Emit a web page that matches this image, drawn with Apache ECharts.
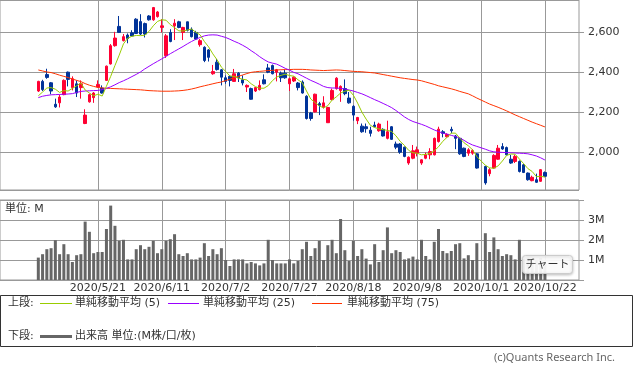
<!DOCTYPE html>
<html>
<head>
<meta charset="utf-8">
<script src="https://cdn.jsdelivr.net/npm/echarts@6/dist/echarts.min.js"></script>
<style>
  html, body { margin: 0; padding: 0; background: #fff; }
  #chart { width: 633px; height: 376px; }
</style>
</head>
<body>
<div id="chart"></div>
<script>
// 日付（営業日）
const dates = [
  '2020/4/27','2020/4/28','2020/4/30','2020/5/1','2020/5/7','2020/5/8','2020/5/11','2020/5/12','2020/5/13','2020/5/14','2020/5/15','2020/5/18','2020/5/19','2020/5/20','2020/5/21',
  '2020/5/22','2020/5/25','2020/5/26','2020/5/27','2020/5/28','2020/5/29','2020/6/1','2020/6/2','2020/6/3','2020/6/4','2020/6/5','2020/6/8','2020/6/9','2020/6/10','2020/6/11',
  '2020/6/12','2020/6/15','2020/6/16','2020/6/17','2020/6/18','2020/6/19','2020/6/22','2020/6/23','2020/6/24','2020/6/25','2020/6/26','2020/6/29','2020/6/30','2020/7/1','2020/7/2',
  '2020/7/3','2020/7/6','2020/7/7','2020/7/8','2020/7/9','2020/7/10','2020/7/13','2020/7/14','2020/7/15','2020/7/16','2020/7/17','2020/7/20','2020/7/21','2020/7/22','2020/7/27',
  '2020/7/28','2020/7/29','2020/7/30','2020/7/31','2020/8/3','2020/8/4','2020/8/5','2020/8/6','2020/8/7','2020/8/11','2020/8/12','2020/8/13','2020/8/14','2020/8/17','2020/8/18',
  '2020/8/19','2020/8/20','2020/8/21','2020/8/24','2020/8/25','2020/8/26','2020/8/27','2020/8/28','2020/8/31','2020/9/1','2020/9/2','2020/9/3','2020/9/4','2020/9/7','2020/9/8',
  '2020/9/9','2020/9/10','2020/9/11','2020/9/14','2020/9/15','2020/9/16','2020/9/17','2020/9/18','2020/9/23','2020/9/24','2020/9/25','2020/9/28','2020/9/29','2020/9/30','2020/10/1',
  '2020/10/2','2020/10/5','2020/10/6','2020/10/7','2020/10/8','2020/10/9','2020/10/12','2020/10/13','2020/10/14','2020/10/15','2020/10/16','2020/10/19','2020/10/20','2020/10/21','2020/10/22'
]
const tickLabels = ['2020/5/21', '2020/6/11', '2020/7/2', '2020/7/27', '2020/8/18', '2020/9/8', '2020/10/1', '2020/10/22']
const priceTicks = [2000, 2200, 2400, 2600]
const volumeTicks = [1, 2, 3]

// 四本値（10/1 は売買停止）
const open = [
  2305,2353,2387,2346,2239,2246,2287,2399,2322,2341,2322,2143,2251,2272,2325,
  2320,2358,2440,2531,2627,2556,2584,2595,2663,2651,2641,2679,2660,2676,2622,
  2481,2597,2630,2650,2597,2650,2613,2597,2536,2523,2510,2391,2449,2411,2371,
  2378,2353,2394,2361,2325,2317,2305,2312,2361,2420,2432,2399,2394,2394,2341,
  2355,2345,2350,2279,2196,2201,2242,2226,2147,2262,2317,2308,2317,2270,2229,
  2157,2130,2127,2110,2135,2107,2114,2069,2127,2041,2041,2025,1946,1970,1995,
  1946,1970,1987,1987,2053,2102,2077,2114,2081,2069,2020,1995,1995,1992,null,
  1929,1893,1921,1965,2028,2023,1965,1954,1954,1937,1896,1858,1863,1855,1899
]
const close = [
  2353,2312,2373,2305,2226,2275,2358,2363,2366,2295,2341,2185,2287,2295,2338,
  2295,2429,2531,2569,2597,2576,2567,2579,2592,2589,2589,2660,2721,2699,2630,
  2580,2552,2643,2622,2622,2608,2576,2564,2556,2457,2473,2402,2412,2374,2353,
  2358,2391,2371,2345,2333,2264,2322,2333,2341,2399,2391,2411,2371,2371,2366,
  2374,2322,2295,2168,2168,2289,2234,2246,2223,2308,2369,2328,2292,2246,2185,
  2173,2102,2117,2094,2127,2140,2081,2102,2064,2025,2000,1979,1975,2007,2012,
  1962,1987,2003,2069,2115,2094,2089,2107,2069,1992,1979,2012,2008,1921,null,
  1847,1913,1984,2020,2016,1987,1946,1979,1904,1899,1863,1875,1850,1913,1880
]
const high = [
  2356,2361,2416,2350,2267,2287,2363,2402,2378,2358,2358,2214,2292,2300,2358,
  2333,2432,2539,2600,2679,2589,2592,2608,2668,2688,2646,2683,2724,2704,2663,
  2589,2613,2663,2655,2625,2651,2622,2605,2564,2528,2514,2435,2465,2415,2383,
  2383,2415,2399,2383,2338,2322,2325,2358,2388,2440,2437,2415,2402,2411,2371,
  2378,2350,2358,2284,2201,2292,2251,2279,2226,2317,2374,2333,2363,2300,2234,
  2176,2143,2143,2127,2152,2147,2119,2157,2130,2053,2045,2028,1979,2036,2028,
  1965,1998,2020,2073,2127,2110,2094,2127,2086,2074,2023,2020,2015,1995,null,
  1932,1921,1990,2036,2045,2028,1987,1987,1959,1942,1899,1883,1893,1916,1904
]
const low = [
  2300,2305,2366,2289,2221,2223,2284,2328,2308,2275,2267,2140,2247,2246,2322,
  2292,2355,2437,2526,2594,2552,2543,2576,2589,2584,2572,2656,2655,2671,2597,
  2470,2548,2559,2618,2559,2602,2572,2559,2526,2449,2452,2386,2407,2333,2341,
  2328,2350,2350,2333,2300,2262,2300,2308,2338,2394,2388,2353,2350,2366,2305,
  2350,2308,2292,2163,2157,2198,2185,2218,2147,2259,2312,2251,2284,2242,2157,
  2140,2097,2097,2078,2124,2102,2078,2064,2061,2015,1992,1975,1937,1965,1979,
  1937,1965,1965,1984,2048,2074,2074,2094,2015,1987,1975,1982,1987,1918,null,
  1838,1880,1918,1962,2012,1984,1942,1946,1899,1896,1858,1855,1847,1852,1876
]

// 単純移動平均
const ma5 = [
  2281,2300,2320,2322,2314,2298,2307,2305,2318,2331,2345,2310,2295,2281,2289,
  2280,2329,2378,2432,2484,2540,2568,2578,2582,2581,2583,2602,2630,2652,2660,
  2658,2636,2621,2605,2604,2609,2614,2598,2585,2552,2525,2490,2460,2424,2403,
  2380,2378,2369,2364,2360,2341,2327,2319,2319,2332,2357,2375,2383,2389,2382,
  2379,2361,2346,2305,2265,2248,2231,2221,2232,2260,2276,2295,2304,2309,2284,
  2245,2200,2165,2134,2123,2116,2112,2109,2103,2082,2054,2034,2009,1997,1995,
  1987,1989,1994,2007,2027,2054,2074,2095,2095,2070,2047,2032,2012,1978,null,
  1935,1922,1920,1932,1956,1984,1991,1990,1966,1943,1918,1904,1878,1880,1876
]
const ma25 = [
  2272,2279,2283,2286,2287,2288,2289,2290,2292,2298,2303,2305,2306,2307,2308,
  2312,2318,2326,2336,2347,2356,2366,2377,2388,2400,2415,2428,2441,2453,2465,
  2478,2491,2503,2515,2527,2540,2552,2563,2572,2580,2584,2585,2584,2578,2572,
  2563,2553,2544,2533,2521,2506,2492,2476,2462,2450,2444,2439,2429,2418,2409,
  2398,2391,2380,2369,2358,2349,2339,2328,2322,2320,2320,2318,2315,2310,2305,
  2298,2291,2282,2272,2262,2253,2243,2233,2222,2208,2192,2176,2163,2153,2146,
  2139,2131,2121,2111,2103,2095,2090,2084,2078,2071,2059,2046,2036,2029,null,
  2015,2007,2002,2000,1999,1998,1997,1996,1995,1994,1992,1987,1981,1972,1961
]
const ma75 = [
  2410,2405,2400,2397,2391,2384,2378,2372,2365,2358,2352,2342,2334,2328,2323,
  2320,2319,2318,2317,2316,2315,2314,2313,2312,2311,2309,2307,2306,2305,2304,
  2304,2304,2305,2306,2308,2311,2315,2320,2326,2331,2336,2341,2346,2350,2357,
  2364,2371,2378,2385,2392,2398,2401,2403,2405,2407,2408,2410,2411,2412,2412,
  2413,2413,2413,2412,2410,2409,2408,2407,2408,2409,2410,2409,2407,2405,2403,
  2402,2401,2399,2397,2395,2391,2387,2383,2379,2375,2371,2368,2365,2362,2360,
  2356,2350,2344,2338,2331,2326,2321,2316,2310,2303,2297,2291,2281,2270,null,
  2250,2240,2232,2224,2215,2206,2196,2186,2177,2168,2159,2150,2142,2134,2126
]

// 出来高（M株）
const volume = [
  1.12,1.29,1.54,1.59,1.99,1.29,1.79,1.29,0.90,1.24,1.29,2.92,2.41,1.34,1.40,
  1.40,2.55,3.72,2.71,1.96,2.01,1.03,1.03,1.54,1.74,1.54,1.66,1.96,1.34,1.54,
  1.96,2.04,2.29,1.29,1.20,1.34,1.03,1.03,1.12,1.84,1.20,1.54,1.29,1.59,1.00,
  0.70,1.03,1.03,1.03,0.83,0.90,0.83,0.73,0.83,2.01,1.00,0.83,0.83,0.83,1.03,
  0.83,0.95,1.54,1.91,1.20,1.59,1.96,1.00,1.74,2.01,1.34,3.05,1.49,0.95,1.96,
  1.20,1.54,1.07,0.78,1.79,0.90,1.49,2.63,1.34,1.49,1.40,1.03,1.08,1.17,1.03,
  2.01,1.20,1.03,1.91,2.55,1.45,1.34,1.45,1.79,1.84,1.08,1.24,1.00,1.84,null,
  2.34,1.40,2.13,1.54,1.20,1.29,1.24,1.03,2.01,1.03,1.10,0.90,1.00,1.10,0.80
]

// 左右の余白（空きカテゴリ数）
const padLeft = 9
const padRight = 8
const EMPTY = '-'
const pad = (arr) => new Array(padLeft).fill(EMPTY)
  .concat(arr.map((v) => (v == null ? EMPTY : v)), new Array(padRight).fill(EMPTY))
const axisDates = new Array(padLeft).fill('').concat(dates, new Array(padRight).fill(''))
const EMPTY_CANDLE = [EMPTY, EMPTY, EMPTY, EMPTY]
const candles = new Array(padLeft).fill(EMPTY_CANDLE)
  .concat(
    dates.map((d, i) => (open[i] == null ? EMPTY_CANDLE : [open[i], close[i], low[i], high[i]])),
    new Array(padRight).fill(EMPTY_CANDLE)
  )
const showDate = (idx, val) => tickLabels.indexOf(val) >= 0

const FONT = 'DejaVu Sans, Noto Sans CJK JP, sans-serif'
const GRID_COLOR = '#999'

let myChart = echarts.init(document.getElementById('chart'))
let option = {
  animation: false,
  textStyle: { fontFamily: FONT },
  grid: [
    // 上端の枠線は見えないので 1px 上にずらす
    { left: 0, top: -1, width: 579, height: 191, show: true, borderColor: GRID_COLOR, borderWidth: 1 },
    { left: 0, top: 200, width: 579, height: 80, show: true, borderColor: GRID_COLOR, borderWidth: 1 }
  ],
  xAxis: [
    {
      gridIndex: 0,
      type: 'category',
      data: axisDates,
      boundaryGap: false,
      axisLine: { show: false },
      axisTick: { show: false },
      axisLabel: { show: false },
      splitLine: { show: true, interval: showDate, lineStyle: { color: GRID_COLOR } }
    },
    {
      gridIndex: 1,
      type: 'category',
      data: axisDates,
      boundaryGap: false,
      axisLine: { show: false },
      axisTick: { show: false },
      axisLabel: { interval: showDate, color: '#333', fontSize: 11, margin: 3, fontFamily: FONT },
      splitLine: { show: true, interval: showDate, lineStyle: { color: GRID_COLOR } }
    }
  ],
  yAxis: [
    {
      gridIndex: 0,
      type: 'value',
      position: 'right',
      min: 1811.6,
      max: 2758.7,
      axisLine: { show: false },
      axisTick: { show: true, length: 5, lineStyle: { color: GRID_COLOR } },
      axisLabel: {
        color: '#333',
        fontSize: 11,
        margin: 9,
        fontFamily: FONT,
        showMinLabel: false,
        showMaxLabel: false,
        formatter: (v) => (priceTicks.indexOf(v) >= 0 ? v.toLocaleString('en-US') : '')
      },
      splitLine: { show: true, lineStyle: { color: GRID_COLOR } }
    },
    {
      gridIndex: 1,
      type: 'value',
      position: 'right',
      min: 0,
      max: 4,
      interval: 1,
      axisLine: { show: false },
      axisTick: { show: true, length: 5, lineStyle: { color: GRID_COLOR } },
      axisLabel: {
        color: '#333',
        fontSize: 11,
        margin: 9,
        fontFamily: FONT,
        formatter: (v) => (volumeTicks.indexOf(v) >= 0 ? v + 'M' : '')
      },
      splitLine: { show: true, lineStyle: { color: GRID_COLOR } }
    }
  ],
  series: [
    {
      name: 'ローソク足',
      type: 'candlestick',
      xAxisIndex: 0,
      yAxisIndex: 0,
      barWidth: 3,
      data: candles,
      itemStyle: {
        color: '#ff0033',
        color0: '#003399',
        borderColor: '#ff0033',
        borderColor0: '#003399',
        borderWidth: 1
      }
    },
    {
      name: '単純移動平均 (75)',
      type: 'line',
      xAxisIndex: 0,
      yAxisIndex: 0,
      data: pad(ma75),
      showSymbol: false,
      connectNulls: true,
      lineStyle: { color: '#ff3300', width: 1 }
    },
    {
      name: '単純移動平均 (25)',
      type: 'line',
      xAxisIndex: 0,
      yAxisIndex: 0,
      data: pad(ma25),
      showSymbol: false,
      connectNulls: true,
      lineStyle: { color: '#9900ff', width: 1 }
    },
    {
      name: '単純移動平均 (5)',
      type: 'line',
      xAxisIndex: 0,
      yAxisIndex: 0,
      data: pad(ma5),
      showSymbol: false,
      connectNulls: true,
      lineStyle: { color: '#99cc00', width: 1 }
    },
    {
      name: '出来高',
      type: 'bar',
      xAxisIndex: 1,
      yAxisIndex: 1,
      barWidth: 3,
      data: pad(volume),
      itemStyle: { color: '#666666' }
    }
  ],
  graphic: [
    // 単位
    { type: 'text', left: 5, top: 204, style: { text: '単位: M', fill: '#333', font: '11px ' + FONT } },
    // チャートボタン
    {
      type: 'rect',
      z: 100,
      zlevel: 1,
      shape: { x: 522.5, y: 255.5, width: 50, height: 18, r: 3 },
      style: { fill: 'rgba(255,255,255,0.93)', stroke: '#cccccc', lineWidth: 1, shadowBlur: 3, shadowColor: 'rgba(0,0,0,0.25)', shadowOffsetY: 1 }
    },
    {
      type: 'text',
      z: 101,
      zlevel: 1,
      style: { x: 547.5, y: 265, text: 'チャート', fill: '#333', font: '11px ' + FONT, align: 'center', verticalAlign: 'middle' }
    },
    // 凡例ボックス
    {
      type: 'rect',
      shape: { x: 0.5, y: 295.5, width: 632, height: 51 },
      style: { fill: '#fff', stroke: '#333', lineWidth: 1 }
    },
    { type: 'text', style: { x: 8, y: 303, text: '上段:', fill: '#333', font: '11px ' + FONT, verticalAlign: 'middle' } },
    { type: 'line', shape: { x1: 40, y1: 303.5, x2: 72, y2: 303.5 }, style: { stroke: '#99cc00', lineWidth: 1 } },
    { type: 'text', style: { x: 75, y: 303, text: '単純移動平均 (5)', fill: '#333', font: '11px ' + FONT, verticalAlign: 'middle' } },
    { type: 'line', shape: { x1: 168, y1: 303.5, x2: 199, y2: 303.5 }, style: { stroke: '#9900ff', lineWidth: 1 } },
    { type: 'text', style: { x: 203, y: 303, text: '単純移動平均 (25)', fill: '#333', font: '11px ' + FONT, verticalAlign: 'middle' } },
    { type: 'line', shape: { x1: 312, y1: 303.5, x2: 342, y2: 303.5 }, style: { stroke: '#ff3300', lineWidth: 1 } },
    { type: 'text', style: { x: 347, y: 303, text: '単純移動平均 (75)', fill: '#333', font: '11px ' + FONT, verticalAlign: 'middle' } },
    { type: 'text', style: { x: 8, y: 336, text: '下段:', fill: '#333', font: '11px ' + FONT, verticalAlign: 'middle' } },
    { type: 'line', shape: { x1: 40, y1: 336.5, x2: 72, y2: 336.5 }, style: { stroke: '#666666', lineWidth: 3 } },
    { type: 'text', style: { x: 75, y: 336, text: '出来高 単位:(M株/口/枚)', fill: '#333', font: '11px ' + FONT, verticalAlign: 'middle' } },
    // 著作権
    { type: 'text', style: { x: 615, y: 358, text: '(c)Quants Research Inc.', fill: '#666', font: '11px Noto Sans, sans-serif', align: 'right', verticalAlign: 'middle' } }
  ]
}
myChart.setOption(option)
</script>
</body>
</html>
